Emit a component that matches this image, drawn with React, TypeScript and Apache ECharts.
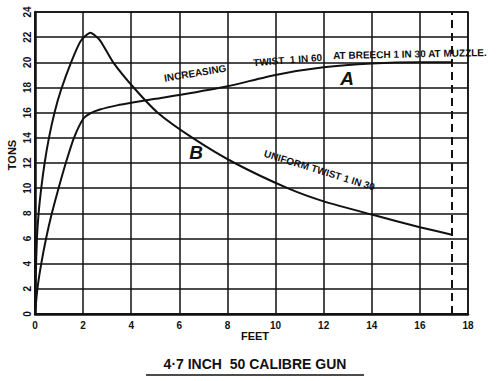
import React, { useEffect, useRef } from "react";
import * as echarts from "echarts";

const xTicks = [0, 2, 4, 6, 8, 10, 12, 14, 16, 18];
const yTicks = [0, 2, 4, 6, 8, 10, 12, 14, 16, 18, 20, 22, 24];

// Curve A: increasing twist (feet, tons)
const curveA: [number, number][] = [
  [0, 0], [0.1, 2], [0.26, 4], [0.46, 6], [0.7, 8], [0.98, 10], [1.28, 12],
  [1.62, 14], [2.0, 15.5], [2.3, 15.95], [2.7, 16.25], [3.45, 16.6], [4, 16.78],
  [5, 17.1], [6, 17.4], [8, 18.1], [10, 19.0], [12, 19.6], [14, 19.9], [16, 20.0], [17.33, 20.0],
];

// Curve B: uniform twist (feet, tons)
const curveB: [number, number][] = [
  [0, 0], [0.03, 3], [0.08, 6], [0.15, 8], [0.26, 10], [0.4, 12], [0.58, 14],
  [0.81, 16], [1.08, 17.8], [1.5, 20], [1.9, 21.7], [2.3, 22.35], [2.7, 21.75],
  [3.25, 20], [4.1, 18], [5.1, 16], [6.55, 14], [8.3, 12], [10.5, 10],
  [12, 8.95], [14, 7.9], [16, 6.9], [17.33, 6.3],
];

const muzzle = 17.33;

const FONT = "'Liberation Sans', Arial, sans-serif";
const INK = "#111";

export default function App() {
  const ref = useRef<HTMLDivElement>(null);
  useEffect(() => {
    if (!ref.current) return;
    const chart = echarts.init(ref.current, null, { renderer: "svg" });
    chart.setOption({
      animation: false,
      backgroundColor: "#fff",
      grid: {
        left: 35, right: 32, top: 12, bottom: 67,
        show: true, borderColor: INK, borderWidth: 1.5,
      },
      xAxis: {
        type: "value", min: 0, max: 18, interval: 2,
        axisLine: { show: true, lineStyle: { color: INK, width: 2.5 } },
        axisTick: { show: false },
        splitLine: { show: true, lineStyle: { color: INK, width: 1.5 } },
        axisLabel: {
          color: INK, fontFamily: FONT, fontWeight: "bold", fontSize: 10, margin: 6,
          formatter: (v: number) => (xTicks.includes(v) ? String(v) : ""),
        },
      },
      yAxis: {
        type: "value", min: 0, max: 24, interval: 2,
        axisLine: { show: true, lineStyle: { color: INK, width: 2.5 } },
        axisTick: { show: false },
        splitLine: { show: true, lineStyle: { color: INK, width: 1.5 } },
        axisLabel: {
          color: INK, fontFamily: FONT, fontWeight: "bold", fontSize: 10, margin: 3, rotate: 90,
          formatter: (v: number) => (yTicks.includes(v) ? String(v) : ""),
        },
      },
      series: [
        {
          type: "line", data: curveA, smooth: 0.2, symbol: "none",
          lineStyle: { color: INK, width: 2 },
          markLine: {
            silent: true, symbol: "none", label: { show: false },
            lineStyle: { color: INK, width: 2, type: [8, 5] },
            data: [{ xAxis: muzzle }],
          },
        },
        {
          type: "line", data: curveB, smooth: 0.2, symbol: "none",
          lineStyle: { color: INK, width: 2 },
        },
      ],
      graphic: [
        { type: "text", x: 12, y: 155, rotation: Math.PI / 2, style: { text: "TONS", font: `bold 11px ${FONT}`, fill: INK, align: "center", verticalAlign: "middle" } },
        { type: "text", x: 255, y: 336, style: { text: "FEET", font: `bold 11px ${FONT}`, fill: INK, align: "center", verticalAlign: "middle" } },
        { type: "text", x: 255, y: 364, style: { text: "4·7 INCH  50 CALIBRE GUN", font: `bold 14px ${FONT}`, fill: INK, align: "center", verticalAlign: "middle" } },
        { type: "line", shape: { x1: 146, y1: 375, x2: 364, y2: 375 }, style: { stroke: INK, lineWidth: 1.5 } },
        { type: "text", x: 196, y: 78, rotation: 0.165, style: { text: "INCREASING", font: `bold 10px ${FONT}`, fill: INK, align: "center", verticalAlign: "bottom" } },
        { type: "text", x: 288, y: 65, rotation: 0.08, style: { text: "TWIST  1 IN 60", font: `bold 10px ${FONT}`, fill: INK, align: "center", verticalAlign: "bottom" } },
        { type: "text", x: 410, y: 59, rotation: 0.02, style: { text: "AT BREECH 1 IN 30 AT MUZZLE.", font: `bold 10px ${FONT}`, fill: INK, align: "center", verticalAlign: "bottom" } },
        { type: "text", x: 318, y: 175, rotation: -0.3, style: { text: "UNIFORM TWIST 1 IN 30", font: `bold 10px ${FONT}`, fill: INK, align: "center", verticalAlign: "bottom" } },
        { type: "text", x: 347, y: 78, style: { text: "A", font: `italic bold 19px ${FONT}`, fill: INK, align: "center", verticalAlign: "middle" } },
        { type: "text", x: 196, y: 152, style: { text: "B", font: `italic bold 19px ${FONT}`, fill: INK, align: "center", verticalAlign: "middle" } },
      ],
    });
    return () => chart.dispose();
  }, []);
  return <div ref={ref} style={{ width: 500, height: 381, position: "absolute", left: 0, top: 0 }} />;
}
